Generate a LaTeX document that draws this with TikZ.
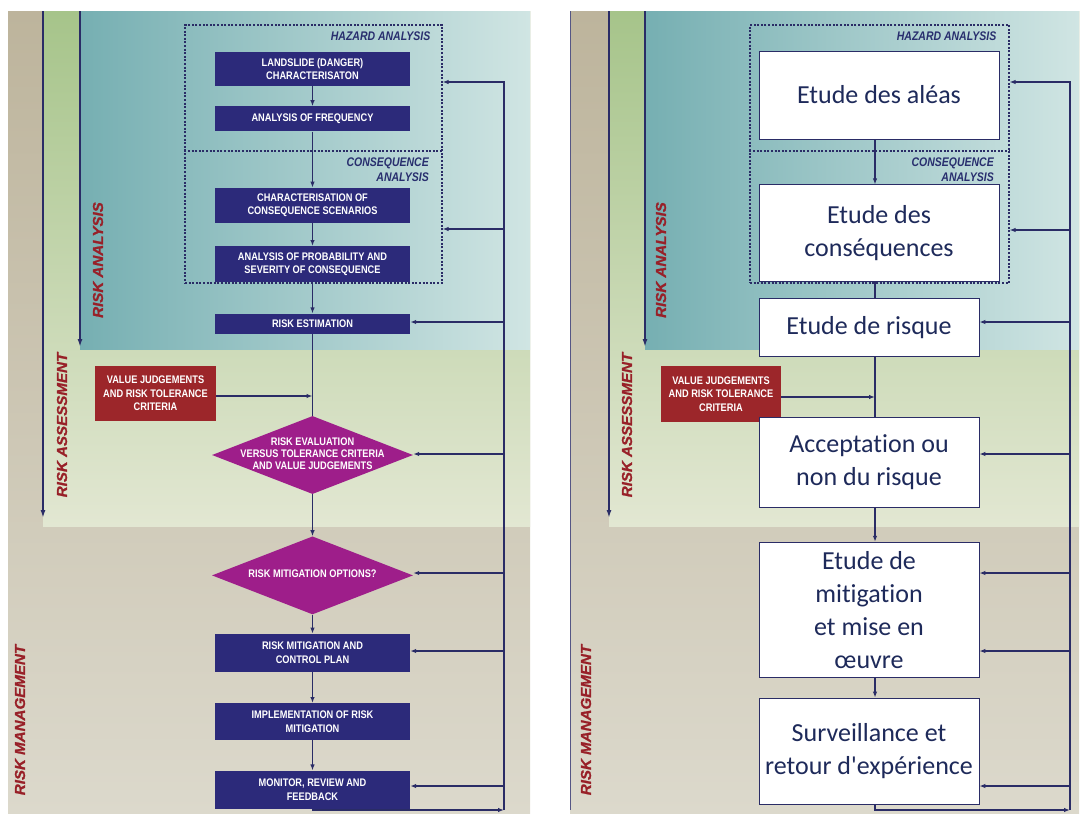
\documentclass[tikz,border=0pt]{standalone}
\usepackage{fontspec}
\usetikzlibrary{positioning,shapes.geometric,arrows.meta}
\newfontfamily\boxfont[FakeStretch=0.84]{Liberation Sans}
\newfontfamily\tagfont[FakeStretch=1.05,FakeBold=1.2]{Liberation Sans}
\newfontfamily\calfont[Ligatures=NoCommon]{Carlito}

\definecolor{navy}{RGB}{44,42,122}
\definecolor{linecol}{RGB}{42,44,102}
\definecolor{tagred}{RGB}{152,32,40}
\definecolor{boxred}{RGB}{156,38,42}
\definecolor{magen}{RGB}{158,30,138}
\definecolor{headblue}{RGB}{40,46,110}
\definecolor{txtnavy}{RGB}{30,42,90}
\definecolor{tanA}{RGB}{189,180,156}
\definecolor{tanB}{RGB}{220,217,204}
\definecolor{grnA}{RGB}{166,196,138}
\definecolor{grnB}{RGB}{226,231,210}
\definecolor{bluA}{RGB}{118,175,178}
\definecolor{bluB}{RGB}{208,229,227}

% text of a diamond, taking no room
\newcommand{\midtext}[1]{\smash{\raisebox{-2.6pt}{\makebox[0pt]{\begin{tabular}{@{}c@{}}#1\end{tabular}}}}}

\tikzset{stepbox/.style={fill=navy,text=white,minimum width=195pt,align=center,inner sep=1pt,
                         font=\boxfont\bfseries\fontsize{11}{13.8}\selectfont},
         choice/.style={diamond,fill=magen,text=white,minimum width=201pt,minimum height=78pt,inner sep=0pt,
                        font=\boxfont\bfseries\fontsize{11}{12}\selectfont},
         inputbox/.style={fill=boxred,text=white,minimum width=121pt,minimum height=55pt,align=center,inner sep=1pt,
                          font=\boxfont\bfseries\fontsize{11}{13.4}\selectfont},
         frbox/.style={draw=linecol,line width=0.8pt,fill=white,text=txtnavy,align=center,inner sep=2pt,
                       font=\calfont\fontsize{26}{33}\selectfont},
         frame box/.style={draw=linecol,line width=1.2pt,dash pattern=on 2pt off 1.6pt},
         flow/.style={draw=linecol,line width=1.3pt},
         zone/.style={text=tagred,rotate=90,font=\tagfont\bfseries\itshape\fontsize{14.4}{16}\selectfont},
         part/.style={text=headblue,inner sep=0pt,font=\boxfont\bfseries\itshape\fontsize{12.5}{15}\selectfont}}

\begin{document}
\begin{tikzpicture}[x=1pt,y=-1pt,>={Latex[length=6pt,width=4.5pt]}]
\useasboundingbox (0,0) rectangle (1082,814);

% backgrounds of both panels
\foreach \L/\A/\B/\R in {8/43/80/530,570/609/645/1079}{
  \shade[top color=tanA,bottom color=tanB] (\L,11) rectangle (\R,814);
  \shade[top color=grnA,bottom color=grnB] (\A,11) rectangle (\R,526);
  \shade[left color=bluA,right color=bluB] (\B,11) rectangle (\R,349);
  \draw[linecol,line width=2pt,-{Latex[length=8pt,width=5pt]}] (\A,11) -- (\A,518);
  \draw[linecol,line width=2pt,-{Latex[length=8pt,width=5pt]}] (\B,11) -- (\B,347);
}
\draw[linecol!80,line width=0.8pt] (570,11) -- (570,810);

\node[zone] (raL) at (98,260) {RISK ANALYSIS};
\node[zone] (rsL) at (62,425) {RISK ASSESSMENT};
\node[zone] (rmL) at (20,720) {RISK MANAGEMENT};
\node[zone] (raR) at (661,260) {RISK ANALYSIS};
\node[zone] (rsR) at (627,425) {RISK ASSESSMENT};
\node[zone] (rmR) at (586,720) {RISK MANAGEMENT};

% left panel
\node[frame box,minimum width=257pt,minimum height=258pt] (hazL) at (313.5,154) {};
\draw[frame box] (hazL.west |- 0,151) -- (hazL.east |- 0,151);
\node[part,below left=7.5pt and 12pt of hazL.north east] (hzhL) {HAZARD ANALYSIS};
\node[part,align=right,anchor=north east] (cqhL) at (429,158) {CONSEQUENCE\\ANALYSIS};

\node[stepbox,minimum height=34pt] (lsd) at (312.5,69) {LANDSLIDE (DANGER)\\CHARACTERISATON};
\node[stepbox,minimum height=25pt,below=20pt of lsd] (frq) {ANALYSIS OF FREQUENCY};
\node[stepbox,minimum height=35pt,below=56pt of frq] (chr) {CHARACTERISATION OF\\CONSEQUENCE SCENARIOS};
\node[stepbox,minimum height=36pt,below=23pt of chr] (prb) {ANALYSIS OF PROBABILITY AND\\SEVERITY OF CONSEQUENCE};
\node[stepbox,minimum height=20pt,below=31pt of prb] (est) {RISK ESTIMATION};
\node[choice,below=82pt of est] (eva) {\midtext{RISK EVALUATION\\VERSUS TOLERANCE CRITERIA\\AND VALUE JUDGEMENTS}};
\node[choice,below=42pt of eva] (opt) {\midtext{RISK MITIGATION OPTIONS?}};
\node[stepbox,minimum height=38pt,below=19pt of opt] (plan) {RISK MITIGATION AND\\CONTROL PLAN};
\node[stepbox,minimum height=37pt,below=31pt of plan] (impl) {IMPLEMENTATION OF RISK\\MITIGATION};
\node[stepbox,minimum height=38pt,below=30pt of impl] (mon) {MONITOR, REVIEW AND\\FEEDBACK};
\node[inputbox] (valL) at (155.5,393.5) {VALUE JUDGEMENTS\\AND RISK TOLERANCE\\CRITERIA};

\draw[flow,->] (lsd) -- (frq);
\draw[flow,->] (frq) -- (chr);
\draw[flow,->] (chr) -- (prb);
\draw[flow,->] (prb) -- (est);
\draw[flow] (est) -- (eva);
\draw[flow,->] (eva) -- (opt);
\draw[flow,->] (opt) -- (plan);
\draw[flow,->] (plan) -- (impl);
\draw[flow,->] (impl) -- (mon);
\draw[flow,->] (valL.east |- 0,396) -- (est.south |- 0,396);

\coordinate (fbL) at (504,810);
\draw[flow,<-] (hazL.east |- 0,82) -| (fbL);
\draw[flow,<-] (hazL.east |- 0,229) -- (fbL |- 0,229);
\foreach \n/\y in {est/322,eva/454,opt/573,plan/651,mon/786}
  \draw[flow,<-] (\n.east |- 0,\y) -- (fbL |- 0,\y);
\draw[flow,->] (mon.south) |- (fbL);

% right panel
\node[frame box,minimum width=259pt,minimum height=258pt] (hazR) at (879.5,154) {};
\draw[frame box] (hazR.west |- 0,151) -- (hazR.east |- 0,151);
\node[part,below left=7.5pt and 13pt of hazR.north east] (hzhR) {HAZARD ANALYSIS};
\node[part,align=right,anchor=north east] (cqhR) at (994,158) {CONSEQUENCE\\ANALYSIS};

\node[frbox,minimum width=240pt,minimum height=88pt] (ale) at (879,95) {Etude des aléas};
\node[frbox,minimum width=240pt,minimum height=97pt,below=45pt of ale] (csq) {Etude des\\conséquences};
\node[inputbox,minimum width=120pt,minimum height=56pt] (valR) at (721,394) {VALUE JUDGEMENTS\\AND RISK TOLERANCE\\CRITERIA};
\node[frbox,minimum width=220pt,minimum height=58pt,below right=16pt and 0pt of csq.south west] (rsk) {Etude de risque};
\node[frbox,minimum width=220pt,minimum height=90pt,below=60pt of rsk] (acc) {Acceptation ou\\non du risque};
\node[frbox,minimum width=220pt,minimum height=135pt,below=34pt of acc] (mit) {Etude de\\mitigation\\et mise en\\œuvre};
\node[frbox,minimum width=220pt,minimum height=106pt,below=20pt of mit] (srv) {Surveillance et\\retour d'expérience};

\coordinate (spR) at (875,0);
\draw[flow,->] (ale.south -| spR) -- (csq.north -| spR);
\draw[flow] (csq.south -| spR) -- (rsk.north -| spR);
\draw[flow] (rsk.south -| spR) -- (acc.north -| spR);
\draw[flow,->] (acc.south -| spR) -- (mit.north -| spR);
\draw[flow,->] (mit.south -| spR) -- (srv.north -| spR);
\draw[flow,->] (valR.east |- 0,397) -- (spR |- 0,397);

\coordinate (fbR) at (1070,810);
\draw[flow,<-] (hazR.east |- 0,82) -| (fbR);
\draw[flow,<-] (hazR.east |- 0,230) -- (fbR |- 0,230);
\foreach \n/\y in {rsk/322,acc/454,mit/573,mit/651,srv/786}
  \draw[flow,<-] (\n.east |- 0,\y) -- (fbR |- 0,\y);
\draw[flow,->] (srv.south -| spR) |- (fbR);

\end{tikzpicture}
\end{document}
